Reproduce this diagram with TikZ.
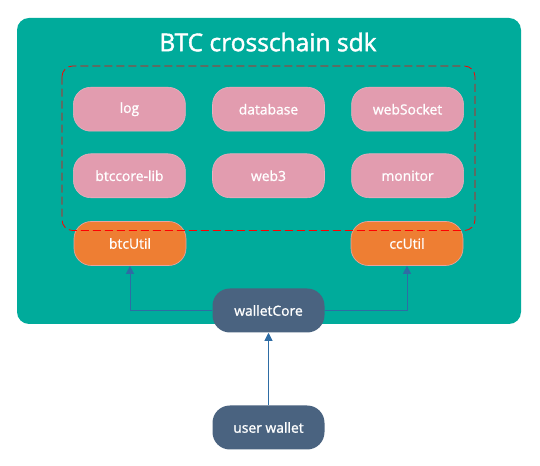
\documentclass[tikz,border=0pt]{standalone}
\usepackage{fontspec}
\setmainfont{Open Sans}
\newfontfamily\sdkfont[FakeBold=1.6]{Open Sans}
\newfontfamily\boxfont[FakeBold=1.2]{Open Sans}
\usetikzlibrary{arrows.meta}
\definecolor{sdkteal}{HTML}{00AB9B}
\definecolor{libpink}{HTML}{E29CAF}
\definecolor{libedge}{HTML}{EBB0BF}
\definecolor{utilorange}{HTML}{EE7E33}
\definecolor{utiledge}{HTML}{E9A39E}
\definecolor{coreblue}{HTML}{4A6380}
\definecolor{linkblue}{HTML}{2E6CA4}

\begin{document}
\begin{tikzpicture}[x=0.75pt, y=-0.75pt,
    box/.style={rounded corners=13pt, minimum width=84pt, minimum height=33pt,
      inner sep=0pt, text=white, font=\boxfont\fontsize{10.4}{12}\selectfont},
    lib/.style={box, fill=libpink, draw=libedge, line width=0.4pt},
    util/.style={box, fill=utilorange, draw=utiledge, line width=0.5pt},
    core/.style={box, fill=coreblue},
    link/.style={draw=linkblue, line width=0.7pt, -{Triangle[length=6pt, width=6pt]}}
  ]
    \useasboundingbox (0,0) rectangle (540,466);
    \fill[sdkteal, rounded corners=9pt] (17,18) rectangle (521,324);
    \node[text=white, font=\sdkfont\fontsize{18.4}{21}\selectfont] (title) at (268,42) {BTC crosschain sdk};
    \matrix
      [
        name=m,
        anchor=center,
        column sep=19.9pt,
        row sep=16.5pt,
        nodes={lib}
      ] at (268.5,142.5)
      {
        \node {log}; & \node {database}; & \node {webSocket}; \\
        \node {btccore-lib}; & \node {web3}; & \node {monitor}; \\
      };
    \node[util] (btc) at (130,243.5) {btcUtil};
    \node[util] (cc) at (407,243.5) {ccUtil};
    \draw[red, dashed, dash pattern=on 6pt off 3pt, line width=0.6pt, rounded corners=8pt]
      (62,66) rectangle (475,230.5);
    \node[core] (wcore) at (268.5,310.5) {walletCore};
    \node[core] (user) at (268.5,427.5) {user wallet};
    \path[link]
      (wcore.west) -| (btc.south);
    \path[link]
      (wcore.east) -| (cc.south);
    \path[link]
      (user.north) -- (wcore.south);
  \end{tikzpicture}
\end{document}
